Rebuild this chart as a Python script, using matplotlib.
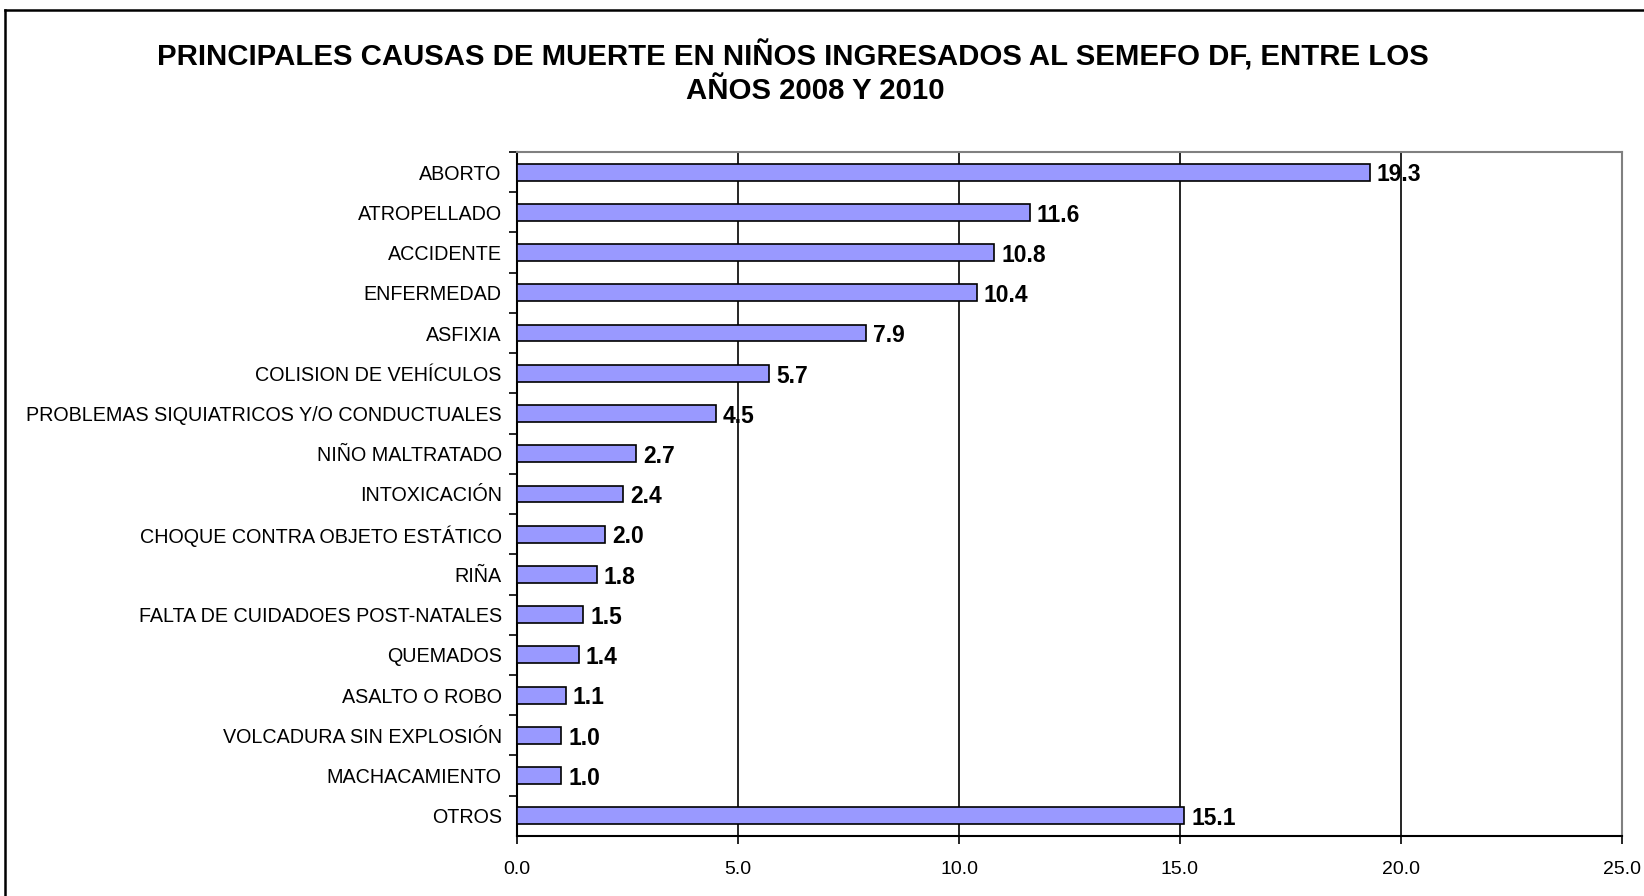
import matplotlib
matplotlib.use('Agg')
import matplotlib.pyplot as plt
from matplotlib.lines import Line2D

plt.rcParams['font.family'] = ['Liberation Sans', 'DejaVu Sans']

causas = ['ABORTO', 'ATROPELLADO', 'ACCIDENTE', 'ENFERMEDAD', 'ASFIXIA',
          'COLISION DE VEHÍCULOS', 'PROBLEMAS SIQUIATRICOS Y/O CONDUCTUALES',
          'NIÑO MALTRATADO', 'INTOXICACIÓN', 'CHOQUE CONTRA OBJETO ESTÁTICO',
          'RIÑA', 'FALTA DE CUIDADOES POST-NATALES', 'QUEMADOS',
          'ASALTO O ROBO', 'VOLCADURA SIN EXPLOSIÓN', 'MACHACAMIENTO', 'OTROS']
porcentaje = [19.3, 11.6, 10.8, 10.4, 7.9, 5.7, 4.5, 2.7, 2.4, 2.0,
              1.8, 1.5, 1.4, 1.1, 1.0, 1.0, 15.1]
xticks = [0, 5, 10, 15, 20, 25]

fig = plt.figure(figsize=(16.44, 8.96), dpi=100)
ax = fig.add_axes([0.3145, 0.067, 0.6721, 0.7634])

ypos = list(range(len(causas)))
ax.barh(ypos, porcentaje, height=0.42, color='#9999FF', edgecolor='black',
        linewidth=1.2, zorder=3)
for y, v in zip(ypos, porcentaje):
    ax.annotate(f'{v:.1f}', (v, y), xytext=(5, -2), textcoords='offset points',
                ha='left', va='center', fontsize=16.5, fontweight='bold', zorder=4)

ax.set_ylim(len(causas) - 0.5, -0.5)
ax.set_xlim(0, 25)
ax.set_xticks(xticks)
ax.set_xticklabels([f'{t:.1f}' for t in xticks], fontsize=14)
ax.tick_params(axis='x', length=6, width=1.2, direction='out', pad=12)

ax.set_yticks(ypos)
ax.set_yticklabels(causas, fontsize=14.2)
ax.tick_params(axis='y', which='major', length=0, pad=11)
ax.set_yticks([y + 0.5 for y in ypos[:-1]] + [-0.5], minor=True)
ax.tick_params(axis='y', which='minor', length=6, width=1.2, direction='out')

ax.grid(axis='x', color='black', linewidth=1.2, zorder=1)
ax.grid(axis='y', visible=False)
for side in ['left', 'bottom']:
    ax.spines[side].set_color('black')
    ax.spines[side].set_linewidth(1.5)
for side in ['top', 'right']:
    ax.spines[side].set_color('#808080')
    ax.spines[side].set_linewidth(1.5)

# titulo en dos lineas
fig.text(0.4823, 0.938,
         'PRINCIPALES CAUSAS DE MUERTE EN NIÑOS INGRESADOS AL SEMEFO DF, ENTRE LOS',
         ha='center', va='center', fontsize=21.2, fontweight='bold')
fig.text(0.496, 0.898, 'AÑOS 2008 Y 2010',
         ha='center', va='center', fontsize=21.2, fontweight='bold')

# marco exterior del grafico
fig.add_artist(Line2D([0.003, 0.003], [0.0, 0.989], color='black', linewidth=1.8,
                      transform=fig.transFigure))
fig.add_artist(Line2D([0.003, 1.0], [0.989, 0.989], color='black', linewidth=1.8,
                      transform=fig.transFigure))

plt.savefig('out.png', dpi=100)
